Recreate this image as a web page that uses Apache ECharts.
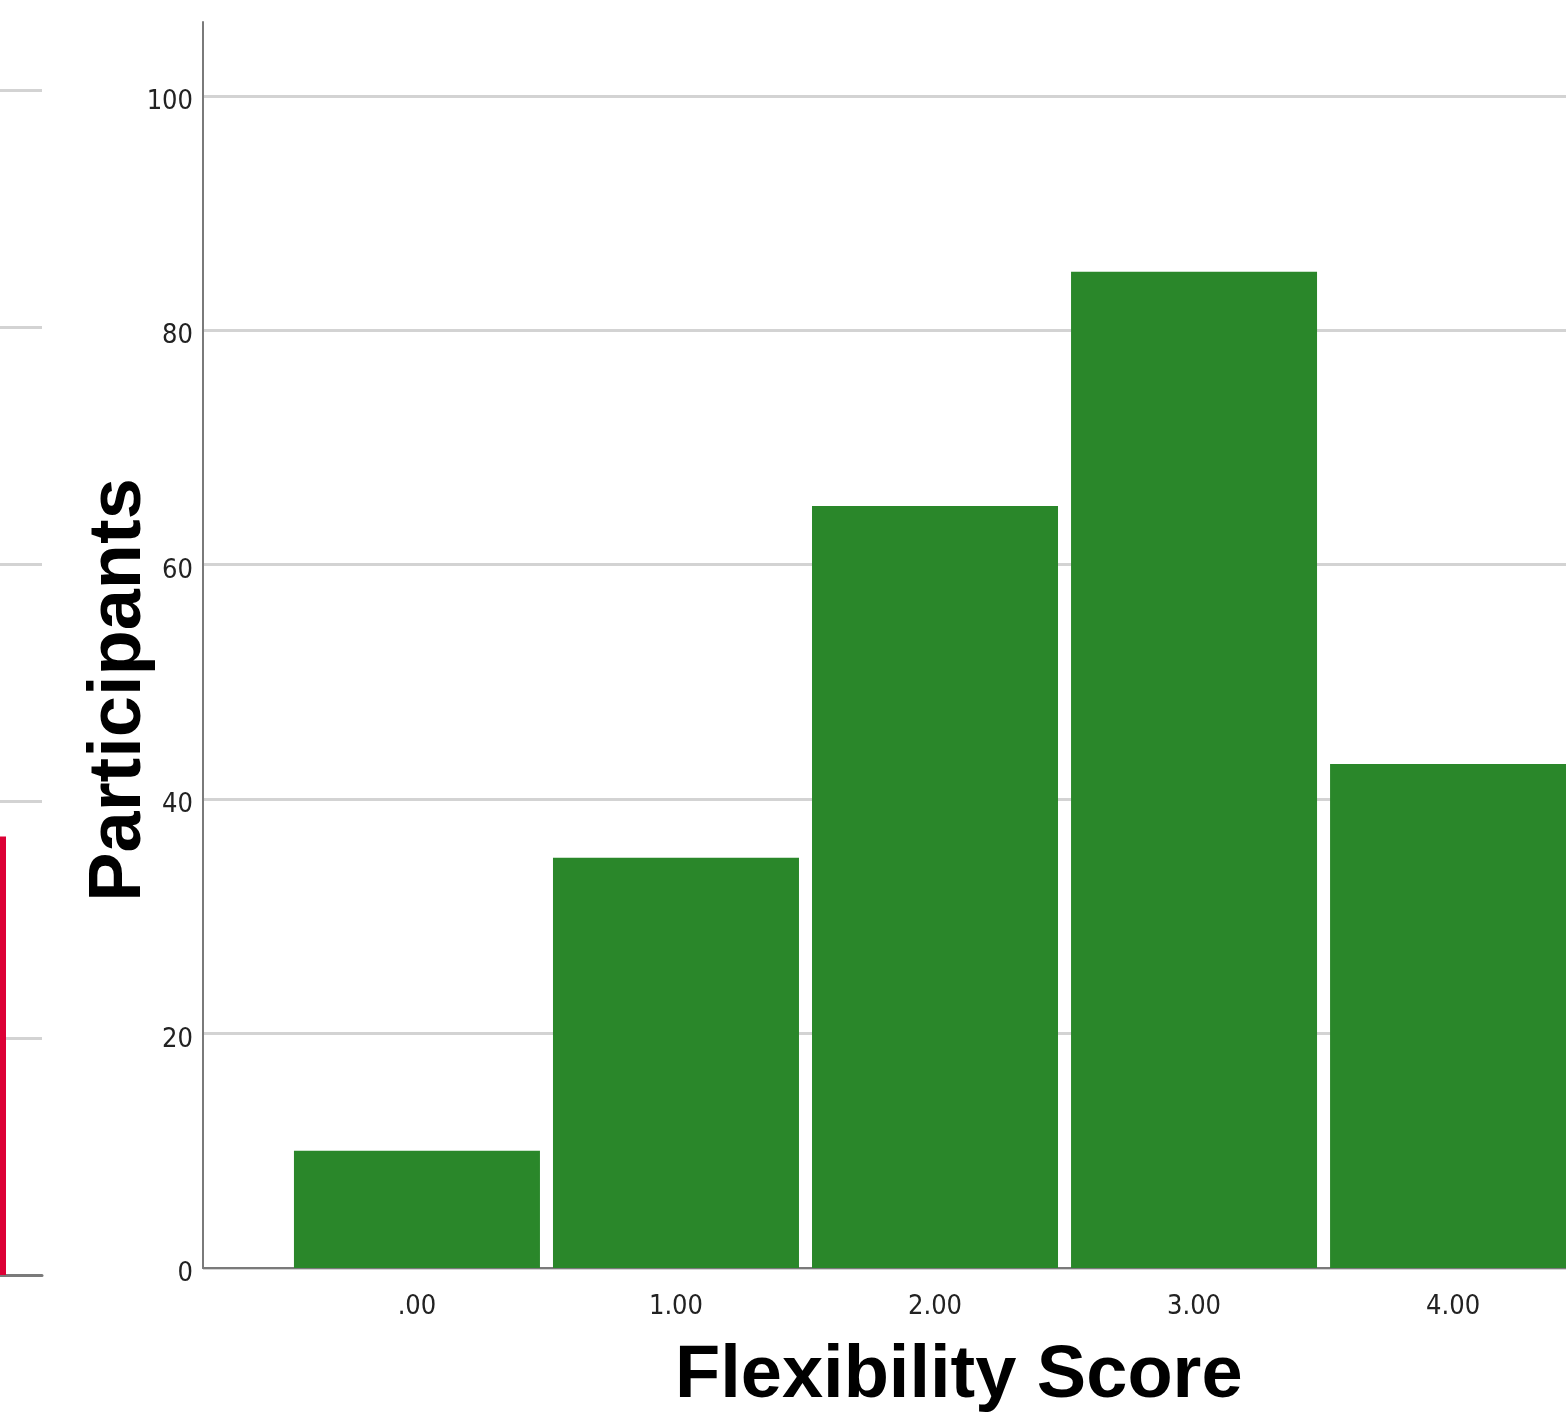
<!DOCTYPE html>
<html>
<head>
<meta charset="utf-8">
<script src="https://cdn.jsdelivr.net/npm/echarts@6/dist/echarts.min.js"></script>
<style>
  html, body { margin: 0; padding: 0; background: #fff; }
  #chart { width: 1566px; height: 1418px; }
</style>
</head>
<body>
<div id="chart"></div>
<script>
// flexibility score categories and participant counts
var scores = [0, 1, 2, 3, 4]
var participants = [10, 35, 65, 85, 43]
var scoreLabels = [".00", "1.00", "2.00", "3.00", "4.00"]

// the neighbouring chart that got cropped on the left
var leftBar = [37]

var chart = echarts.init(document.getElementById("chart"))
var narrow = "'Liberation Sans Narrow', 'DejaVu Sans Condensed', 'Liberation Sans', sans-serif"

var option = {
    animation: false,
    grid: [
        { left: 203, right: 0, top: 22, bottom: 150 },
        { left: 0, width: 42, top: 90, bottom: 143 }
    ],
    xAxis: [
        {
            gridIndex: 0,
            type: "value",
            min: -0.826,
            max: 4.436,
            splitLine: { show: false },
            axisLine: { show: true, onZero: false, lineStyle: { color: "#7a7a7a", width: 2 } },
            axisTick: { show: false },
            axisLabel: {
                customValues: scores,
                formatter: function (v) { return scoreLabels[scores.indexOf(v)] },
                color: "#222",
                fontFamily: narrow,
                fontSize: 27,
                margin: 25
            }
        },
        {
            gridIndex: 1,
            type: "value",
            min: 0,
            max: 42,
            splitLine: { show: false },
            axisLine: { show: true, onZero: false, lineStyle: { color: "#7a7a7a", width: 3 } },
            axisTick: { show: false },
            axisLabel: { show: false }
        }
    ],
    yAxis: [
        {
            gridIndex: 0,
            type: "value",
            min: 0,
            max: 106.3,
            interval: 20,
            axisLine: { show: true, onZero: false, lineStyle: { color: "#7a7a7a", width: 2 } },
            axisTick: { show: false },
            splitLine: { showMaxLine: false, lineStyle: { color: "#d3d3d3", width: 3 } },
            axisLabel: {
                margin: 10,
                showMaxLabel: false,
                formatter: function (v) { return "{n|" + v + "}" },
                rich: {
                    n: {
                        color: "#222",
                        fontFamily: narrow,
                        fontSize: 27,
                        padding: [12, 0, 0, 0]
                    }
                }
            }
        },
        {
            gridIndex: 1,
            type: "value",
            min: 0,
            max: 100,
            interval: 20,
            axisLine: { show: false },
            axisTick: { show: false },
            axisLabel: { show: false },
            splitLine: { lineStyle: { color: "#d3d3d3", width: 3 } }
        }
    ],
    series: [
        {
            type: "bar",
            xAxisIndex: 0,
            yAxisIndex: 0,
            data: scores.map(function (s, i) { return [s, participants[i]] }),
            barWidth: 246,
            itemStyle: { color: "#2a872a" }
        },
        {
            type: "bar",
            xAxisIndex: 1,
            yAxisIndex: 1,
            data: [[0, leftBar[0]]],
            barWidth: 12,
            itemStyle: { color: "#dc0035" }
        }
    ],
    graphic: [
        {
            type: "text",
            left: 675,
            top: 1340,
            style: {
                text: "Flexibility Score",
                font: "bold 74px 'Liberation Sans', Arial, sans-serif",
                fill: "#000"
            }
        },
        {
            type: "text",
            x: 120,
            y: 690,
            rotation: Math.PI / 2,
            style: {
                text: "Participants",
                font: "bold 74px 'Liberation Sans', Arial, sans-serif",
                fill: "#000",
                align: "center",
                verticalAlign: "middle"
            }
        }
    ]
}

chart.setOption(option)
</script>
</body>
</html>
